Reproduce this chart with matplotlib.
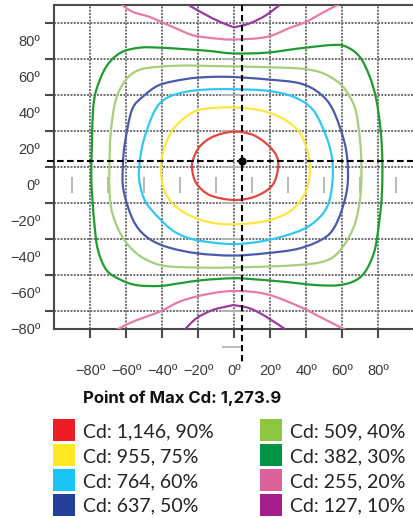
import numpy as np
import matplotlib
matplotlib.use("Agg")
import matplotlib.pyplot as plt
from matplotlib.path import Path
from matplotlib.patches import PathPatch, Rectangle

# ---------------- data (degrees) ----------------
max_cd = 1273.9
max_point = (4.6, 13.3)
level_pct = [90, 75, 60, 50, 40, 30, 20, 10]
level_cd = [1146, 955, 764, 637, 509, 382, 255, 127]

x_ticks = [-80, -60, -40, -20, 0, 20, 40, 60, 80]
y_ticks = [-80, -60, -40, -20, 0, 20, 40, 60, 80]
y_grid = [-70, -50, -30, -10, 10, 30, 50, 70, 90]
row_marks_x = [-90, -70, -50, -30, -10, 10, 30, 50, 70, 90]
col_marks_y = [70, 50, 30, 10, -10, -30, -50, -70, -90]

c90 = [(-0.6, 29.6), (10.6, 27.8), (19.8, 21.3), (24.4, 13.9), (23.5, 4.6), (19.8, -1.8),
       (10.6, -6.8), (-0.6, -8.3), (-13.5, -5.6), (-20.9, 0.9), (-23.2, 8.3), (-22.8, 13.9),
       (-19.1, 21.3), (-11.7, 26.8)]
c75 = [(-0.6, 43.1), (13.9, 41.7), (26.8, 37.1), (36.1, 29.6), (40.7, 19.4), (42.2, 9.4),
       (41.1, 0.0), (37.9, -7.2), (30.6, -15.0), (17.8, -20.0), (-0.6, -21.9), (-13.9, -20.6),
       (-25.0, -16.7), (-33.3, -11.1), (-38.3, -3.9), (-40.4, 4.6), (-40.3, 13.9), (-37.8, 23.3),
       (-33.3, 31.7), (-26.1, 38.3), (-19.4, 41.7), (-11.1, 42.8)]
c60 = [(-0.6, 53.2), (17.9, 52.4), (32.8, 49.1), (43.9, 41.7), (51.3, 26.8), (54.6, 13.9),
       (54.6, 0.9), (52.2, -11.1), (46.1, -19.4), (36.1, -25.6), (17.9, -30.8), (-0.6, -32.8),
       (-20.9, -30.6), (-32.8, -26.1), (-41.7, -18.3), (-49.1, -9.4), (-52.2, 0.0), (-52.8, 8.3),
       (-50.6, 23.2), (-44.4, 40.6), (-37.6, 48.2), (-26.5, 51.8), (-13.9, 53.1)]
c50 = [(-0.6, 60.0), (17.9, 58.7), (36.5, 56.5), (47.6, 50.9), (55.0, 41.7), (61.5, 23.2),
       (63.3, 8.3), (62.4, -4.6), (57.8, -19.4), (51.3, -28.7), (36.5, -35.2), (17.9, -37.9),
       (-0.6, -39.2), (-20.9, -37.9), (-37.6, -34.3), (-48.7, -28.7), (-56.1, -19.4),
       (-61.4, -2.8), (-61.7, 11.1), (-60.6, 23.3), (-56.7, 41.7), (-50.6, 49.1), (-41.3, 55.6),
       (-26.5, 58.9), (-13.9, 60.0)]
c40 = [(-0.6, 65.9), (27.2, 65.2), (40.2, 64.3), (49.4, 62.1), (58.7, 56.5), (64.3, 49.1),
       (67.8, 40.6), (70.0, 25.0), (70.8, 11.1), (70.3, -5.6), (67.8, -19.4), (63.9, -28.9),
       (57.2, -38.3), (49.4, -42.6), (36.5, -44.4), (17.9, -45.3), (-0.6, -45.8), (-17.2, -45.9),
       (-35.7, -45.3), (-45.0, -43.2), (-54.3, -37.9), (-62.1, -28.7), (-67.6, -15.7),
       (-69.2, -2.8), (-69.2, 11.1), (-68.5, 28.9), (-65.7, 47.2), (-60.2, 58.3), (-52.8, 63.9),
       (-41.7, 65.7), (-26.5, 66.4), (-13.9, 66.1)]
c30 = [(-0.6, 73.1), (17.9, 73.5), (36.5, 75.9), (55.0, 77.8), (62.4, 76.8), (69.8, 71.3),
       (75.4, 60.2), (79.1, 47.2), (81.5, 30.0), (82.4, 13.9), (82.2, -4.4), (80.8, -19.4),
       (78.2, -36.1), (73.5, -47.2), (67.9, -52.8), (58.7, -55.6), (45.7, -55.6), (27.2, -53.7),
       (8.7, -52.2), (-0.6, -51.8), (-17.2, -52.8), (-30.2, -54.6), (-41.3, -56.1),
       (-54.3, -55.6), (-63.5, -52.4), (-70.9, -47.2), (-75.6, -36.1), (-77.4, -23.2),
       (-78.5, -10.0), (-79.3, 4.6), (-78.9, 23.3), (-78.3, 41.7), (-76.5, 52.8), (-71.0, 65.7),
       (-63.0, 73.5), (-52.4, 76.3), (-41.3, 76.3), (-26.5, 75.4), (-13.9, 74.5)]
c20_top = [(-63.5, 101.0), (-56.5, 96.3), (-47.2, 93.5), (-40.7, 90.7), (-32.4, 87.1),
           (-23.2, 83.3), (-13.9, 81.8), (-0.6, 80.8), (17.9, 82.2), (30.6, 87.1), (40.2, 90.7),
           (50.0, 96.1), (59.4, 101.0)]
c20_bot = [(-66.2, -81.0), (-56.1, -75.9), (-41.3, -70.4), (-30.2, -64.8), (-17.2, -61.1),
           (-0.6, -58.9), (17.9, -60.6), (36.5, -67.6), (47.6, -73.2), (63.0, -81.0)]
c10_top = [(-27.0, 101.0), (-17.2, 95.4), (-7.9, 90.7), (0.0, 87.6), (8.7, 89.8),
           (17.9, 94.4), (26.6, 101.0)]
c10_bot = [(-28.0, -81.0), (-20.9, -74.1), (-11.7, -69.4), (-0.3, -66.7), (8.7, -68.5),
           (17.9, -73.2), (29.7, -81.0)]

line_colors = ["#e3463f", "#ffe63c", "#30c8f3", "#4a5ba9", "#a5cf7b", "#1f9b2f", "#e67aa9", "#993a9e"]
patch_colors = ["#ed1c24", "#ffe922", "#18c5f4", "#233f99", "#8dc63f", "#009444", "#dc6399", "#a81d8d"]

# ---------------- helpers ----------------
def smooth_path(pts, closed=False, corners=()):
    P = np.asarray(pts, float)
    n = len(P)
    if closed:
        idx = [n - 1] + list(range(n)) + [0, 1]
        segs = n
    else:
        idx = [0] + list(range(n)) + [n - 1]
        segs = n - 1
    ext = P[idx]
    orig = idx
    verts = [ext[1]]
    codes = [Path.MOVETO]
    for i in range(segs):
        p0, p1, p2, p3 = ext[i], ext[i + 1], ext[i + 2], ext[i + 3]
        if orig[i + 1] in corners:
            p0 = p1
        if orig[i + 2] in corners:
            p3 = p2
        c1 = p1 + (p2 - p0) / 6.0
        c2 = p2 - (p3 - p1) / 6.0
        verts += [c1, c2, p2]
        codes += [Path.CURVE4] * 3
    return Path(verts, codes)

# ---------------- figure ----------------
W, H = 414, 518
fig = plt.figure(figsize=(W / 100, H / 100), dpi=100)
ax = fig.add_axes([54 / W, (H - 329) / H, 360 / W, 324 / H])
ax.set_xlim(-100, 100)
ax.set_ylim(-80, 100)

spine_c = "#4a4a4a"
for s in ["left", "bottom", "top"]:
    ax.spines[s].set_color(spine_c)
    ax.spines[s].set_linewidth(1.5)
ax.spines["right"].set_visible(False)

fmt = lambda v: (f"{v}º").replace("-", "\u2212")
ax.set_xticks(x_ticks)
ax.set_xticklabels([fmt(v) for v in x_ticks])
ax.set_yticks(y_ticks)
ax.set_yticklabels([fmt(v) for v in y_ticks])
ax.set_yticks(y_grid, minor=True)
ax.tick_params(axis="x", which="major", length=6.5, width=1.5, color=spine_c, pad=19,
               labelsize=10.5, labelcolor="#3a3a3a")
ax.tick_params(axis="y", which="major", length=0, pad=10, labelsize=10.5, labelcolor="#3a3a3a")
ax.tick_params(axis="y", which="minor", length=6.5, width=1.5, color=spine_c)
for lab in ax.get_xticklabels() + ax.get_yticklabels():
    lab.set_fontfamily("Liberation Sans")

ax.xaxis.grid(True, which="major", color="#6e6e6e", linestyle=(0, (1, 0.7)), linewidth=1.4)
ax.yaxis.grid(True, which="minor", color="#6e6e6e", linestyle=(0, (1, 0.7)), linewidth=1.4)
ax.yaxis.grid(False, which="major")
ax.set_axisbelow(True)

# gray reference marks
ax.vlines(row_marks_x, -4.4, 4.4, color="#b4b4b4", lw=1.3, zorder=1.5)
ax.hlines(col_marks_y, -6.7, max_point[0] - 0.3, color="#b4b4b4", lw=1.3, zorder=1.5, clip_on=False)

# contours
closed_sets = [c90, c75, c60, c50, c40, c30]
for pts, col in zip(closed_sets, line_colors[:6]):
    ax.add_patch(PathPatch(smooth_path(pts, closed=True), fill=False, edgecolor=col, lw=1.6, zorder=3))
for pts in [c20_top, c20_bot]:
    ax.add_patch(PathPatch(smooth_path(pts), fill=False, edgecolor=line_colors[6], lw=1.6, zorder=3))
for pts in [c10_top, c10_bot]:
    ax.add_patch(PathPatch(smooth_path(pts, corners=(3,)), fill=False, edgecolor=line_colors[7],
                           lw=1.6, zorder=3))

# max point cross-hair
ax.plot([max_point[0], max_point[0]], [100, -99], color="black", lw=1.5,
        linestyle=(0, (3, 1.8)), clip_on=False, zorder=4)
ax.plot([-104, 100], [max_point[1], max_point[1]], color="black", lw=1.5,
        linestyle=(0, (3.2, 1.6)), clip_on=False, zorder=4)
ax.plot([max_point[0]], [max_point[1]], "o", ms=5, color="black", zorder=5)

# title
fig.text(83 / W, 1 - 403.3 / H, f"Point of Max Cd: {max_cd:,.1f}", fontsize=12,
         fontweight="bold", family="Inter", color="#111111", va="baseline", ha="left")

# legend
for i, (cd, pct) in enumerate(zip(level_cd, level_pct)):
    col, row = divmod(i, 4)
    x0 = 53 + col * 207
    y0 = 419.3 + row * 24.8
    fig.add_artist(Rectangle((x0 / W, 1 - (y0 + 22) / H), 22 / W, 22 / H,
                             transform=fig.transFigure, facecolor=patch_colors[i], edgecolor="none"))
    fig.text((83 + col * 207) / W, 1 - (437.3 + row * 24.8) / H, f"Cd: {cd:,}, {pct}%",
             fontsize=14, family="Lato", color="#222222", va="baseline", ha="left")

fig.savefig("out.png", dpi=100)
